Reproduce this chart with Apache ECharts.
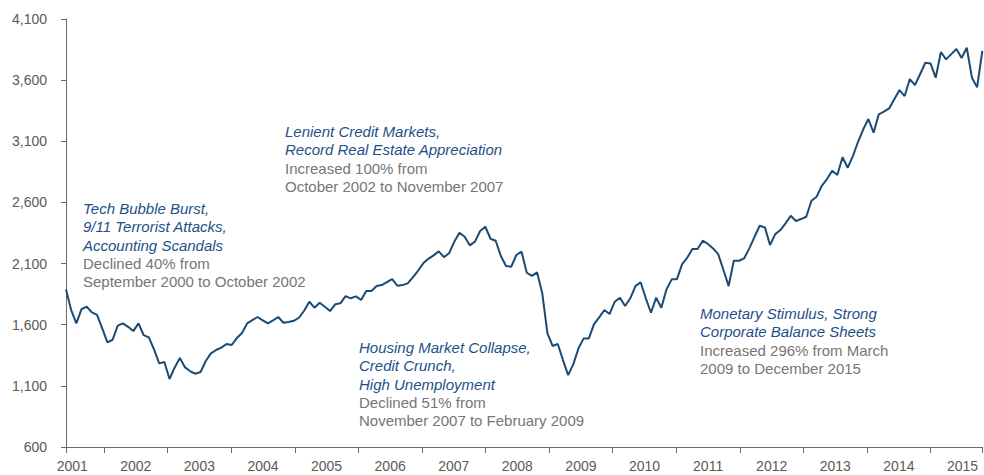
<!DOCTYPE html>
<html>
<head>
<meta charset="utf-8">
<script src="https://cdn.jsdelivr.net/npm/echarts@6/dist/echarts.min.js"></script>
<style>
  html, body { margin: 0; padding: 0; background: #ffffff; }
  #chart { width: 984px; height: 475px; }
</style>
</head>
<body>
<div id="chart"></div>
<script>
// monthly index level, Jan 2001 .. Oct 2015
const years = [2001, 2002, 2003, 2004, 2005, 2006, 2007, 2008, 2009, 2010, 2011, 2012, 2013, 2014, 2015];
const lastMonth = 10;
const values = [
  1889, 1720, 1611, 1728, 1747, 1701, 1681, 1570, 1456, 1477, 1592, 1611,
  1583, 1548, 1611, 1515, 1497, 1399, 1284, 1295, 1156, 1251, 1327, 1251,
  1219, 1199, 1213, 1303, 1366, 1393, 1413, 1442, 1434, 1491, 1532, 1611,
  1638, 1663, 1636, 1611, 1636, 1663, 1616, 1622, 1632, 1657, 1714, 1788,
  1739, 1780, 1747, 1712, 1767, 1775, 1834, 1816, 1832, 1802, 1875, 1875,
  1916, 1924, 1949, 1973, 1919, 1924, 1938, 1987, 2041, 2102, 2139, 2167,
  2200, 2153, 2184, 2279, 2352, 2319, 2249, 2279, 2366, 2401, 2303, 2287,
  2162, 2080, 2074, 2170, 2197, 2025, 2000, 2028, 1857, 1529, 1426, 1442,
  1311, 1188, 1278, 1407, 1488, 1488, 1605, 1660, 1720, 1687, 1788, 1821,
  1753, 1816, 1916, 1947, 1816, 1698, 1821, 1739, 1889, 1971, 1971, 2094,
  2148, 2219, 2219, 2287, 2260, 2224, 2175, 2047, 1916, 2123, 2123, 2143,
  2224, 2319, 2409, 2396, 2252, 2341, 2374, 2429, 2491, 2448, 2464, 2483,
  2614, 2647, 2736, 2791, 2859, 2824, 2969, 2884, 2979, 3096, 3198, 3282,
  3170, 3320, 3342, 3369, 3443, 3519, 3470, 3609, 3560, 3650, 3742, 3737,
  3620, 3830, 3770, 3813, 3854, 3781, 3865, 3620, 3541, 3840
];
const yearLabels = ['2001', '2002', '2003', '2004', '2005', '2006', '2007', '2008',
  '2009', '2010', '2011', '2012', '2013', '2014', '2015'];
const yTickLabels = ['600', '1,100', '1,600', '2,100', '2,600', '3,100', '3,600', '4,100'];

const months = [];
years.forEach(function (y) {
  for (let m = 1; m <= 12; m++) {
    if (y === years[years.length - 1] && m > lastMonth) break;
    months.push(y + '-' + (m < 10 ? '0' : '') + m);
  }
});

const blue = '#1d5088';
const grey = '#767676';
const axisGrey = '#6a6a6a';
const fontFamily = '"Liberation Sans", Arial, sans-serif';

function note(lines, sub) {
  let t = lines.map(function (s) { return '{t|' + s + '}'; });
  t = t.concat(sub.map(function (s) { return '{s|' + s + '}'; }));
  return t.join('\n');
}
const richStyle = {
  t: { fill: blue, fontStyle: 'italic', fontSize: 15, fontFamily: fontFamily, lineHeight: 18.3 },
  s: { fill: grey, fontSize: 15, fontFamily: fontFamily, lineHeight: 18.3 }
};

const chart = echarts.init(document.getElementById('chart'), null, { renderer: 'svg' });

const option = {
  backgroundColor: '#ffffff',
  animation: false,
  grid: { left: 66, right: 1.7, top: 19, bottom: 28, containLabel: false, outerBoundsMode: 'none' },
  xAxis: [
    {
      // data axis
      type: 'category',
      position: 'bottom',
      data: months,
      boundaryGap: false,
      axisLine: { show: false },
      axisTick: { show: false },
      axisLabel: { show: false },
      splitLine: { show: false }
    },
    {
      // year boundary ticks
      type: 'value',
      position: 'bottom',
      min: 2001.4024,
      max: 2015.8118,
      splitNumber: 14,
      minInterval: 1,
      maxInterval: 1,
      axisLine: { show: true, onZero: false, lineStyle: { color: axisGrey, width: 1 } },
      axisTick: { show: true, length: 6, lineStyle: { color: axisGrey, width: 1 } },
      axisLabel: { show: false },
      splitLine: { show: false }
    },
    {
      // year labels, centred in each band
      type: 'value',
      position: 'bottom',
      min: 2000.9024,
      max: 2015.3118,
      splitNumber: 14,
      minInterval: 1,
      maxInterval: 1,
      axisLine: { show: false, onZero: false },
      axisTick: { show: false },
      splitLine: { show: false },
      axisLabel: {
        show: true,
        margin: 12,
        color: '#5a5a5a',
        fontSize: 14,
        fontFamily: fontFamily,
        showMinLabel: true,
        showMaxLabel: true,
        formatter: function (v) {
          const k = Math.round(v);
          if (Math.abs(v - k) > 1e-6) return '';
          return yearLabels[k - years[0]] || '';
        }
      }
    }
  ],
  yAxis: [
    {
      // data axis
      type: 'value',
      position: 'left',
      min: 600,
      max: 4100,
      axisLine: { show: true, onZero: false, lineStyle: { color: axisGrey, width: 1 } },
      axisTick: { show: false },
      axisLabel: { show: false },
      splitLine: { show: false }
    },
    {
      // tick axis, offset by 100 so ticks fall on 600, 1100, ...
      type: 'value',
      position: 'left',
      min: 500,
      max: 4000,
      interval: 500,
      axisLine: { show: false, onZero: false },
      axisTick: { show: true, length: 5, lineStyle: { color: axisGrey, width: 1 } },
      splitLine: { show: false },
      axisLabel: {
        margin: 19,
        color: '#5a5a5a',
        fontSize: 14,
        fontFamily: fontFamily,
        formatter: function (v) {
          return yTickLabels[Math.round((v - 500) / 500)];
        }
      }
    }
  ],
  series: [
    {
      type: 'line',
      xAxisIndex: 0,
      yAxisIndex: 0,
      data: values,
      showSymbol: false,
      symbol: 'none',
      lineStyle: { color: '#1b4b75', width: 2 },
      z: 5
    }
  ],
  graphic: [
    {
      type: 'text', left: 83, top: 201,
      style: {
        text: note(['Tech Bubble Burst,', '9/11 Terrorist Attacks,', 'Accounting Scandals'],
          ['Declined 40% from', 'September 2000 to October 2002']),
        rich: richStyle
      }
    },
    {
      type: 'text', left: 285, top: 124,
      style: {
        text: note(['Lenient Credit Markets,', 'Record Real Estate Appreciation'],
          ['Increased 100% from', 'October 2002 to November 2007']),
        rich: richStyle
      }
    },
    {
      type: 'text', left: 359, top: 340,
      style: {
        text: note(['Housing Market Collapse,', 'Credit Crunch,', 'High Unemployment'],
          ['Declined 51% from', 'November 2007 to February 2009']),
        rich: richStyle
      }
    },
    {
      type: 'text', left: 700, top: 306,
      style: {
        text: note(['Monetary Stimulus, Strong', 'Corporate Balance Sheets'],
          ['Increased 296% from March', '2009 to December 2015']),
        rich: richStyle
      }
    }
  ]
};

chart.setOption(option);
</script>
</body>
</html>
